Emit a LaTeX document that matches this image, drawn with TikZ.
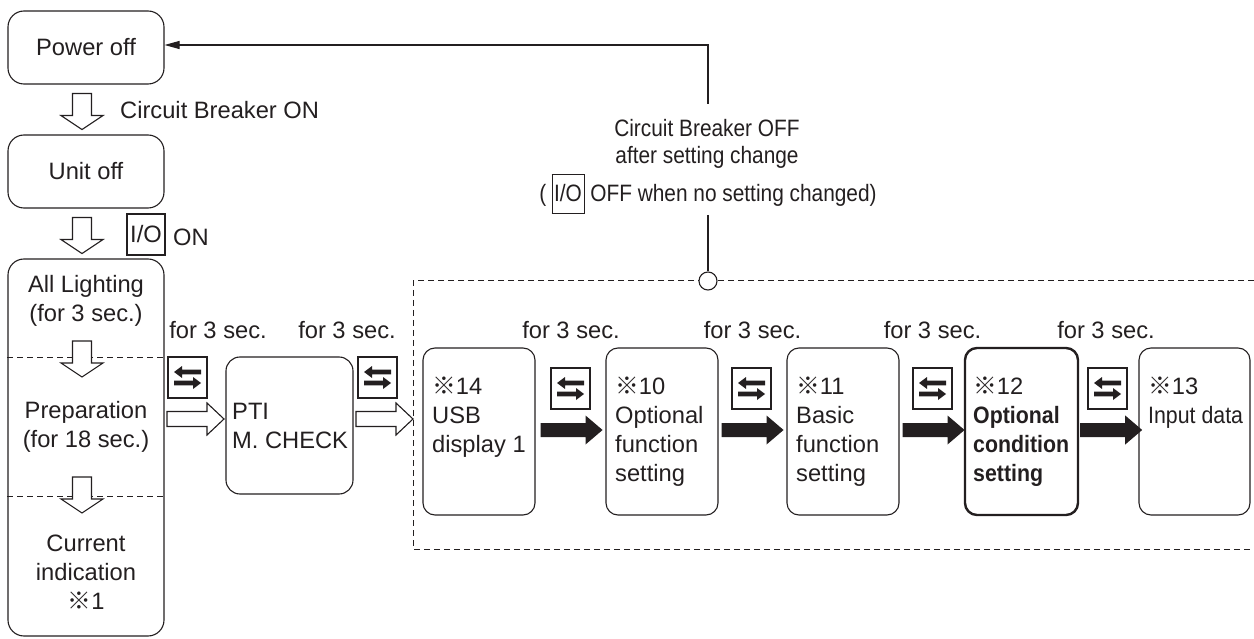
\documentclass[tikz,border=0pt]{standalone}
\usepackage{fontspec}
\usepackage{graphicx}
\setmainfont{Liberation Sans}
\newfontfamily\cjk{Noto Sans CJK JP}
\usetikzlibrary{arrows.meta}
\definecolor{ink}{HTML}{231F20}
\newcommand\kome{{\cjk ※}}
\newcommand\cnd[1]{\scalebox{0.9}[1]{#1}}
\newcommand\cnn[1]{\scalebox{0.88}[1]{#1}}
\newcommand\iobx{{\setlength\fboxsep{2pt}\setlength\fboxrule{0.9pt}\fbox{\rule[-10pt]{0pt}{35pt}I/O}}}
\tikzset{
  ln/.style={draw=ink, line width=1.1pt},
  dsh/.style={draw=ink, line width=1pt, dash pattern=on 6pt off 4pt},
  txt/.style={text=ink, inner sep=0pt, font=\fontsize{23.7}{29}\selectfont},
  top/.style={text=ink, inner sep=0pt, font=\fontsize{23.7}{27}\selectfont},
  box/.style={ln, txt, rounded corners=12pt},
  bigbox/.style={box, rounded corners=16pt},
  hdown/.pic={\draw[ln, fill=white, line join=miter] (-9.5,0) -- (9.5,0) -- (9.5,22) -- (21,22) -- (0,36) -- (-21,22) -- (-9.5,22) -- cycle;},
  hright/.pic={\draw[ln, fill=white, line join=miter] (0,-7.5) -- (40,-7.5) -- (40,-16) -- (57,0) -- (40,16) -- (40,7.5) -- (0,7.5) -- cycle;},
  barrow/.pic={\fill[ink] (0,-7) -- (45,-7) -- (45,-14.5) -- (62,0) -- (45,14.5) -- (45,7) -- (0,7) -- cycle;},
  swap/.pic={\draw[ln] (0,0) rectangle (39,41);
    \fill[ink] (6,15) -- (14,9) -- (14,12.6) -- (33,12.6) -- (33,17.4) -- (14,17.4) -- (14,21) -- cycle;
    \fill[ink] (33,26) -- (25,20) -- (25,23.6) -- (6,23.6) -- (6,28.4) -- (25,28.4) -- (25,32) -- cycle;},
}
\begin{document}
\begin{tikzpicture}[x=1pt,y=-1pt]
\useasboundingbox (0,0) rectangle (1254,639);
% left column
\node[bigbox, minimum width=156pt, minimum height=73pt] (poweroff) at (86,47.5) {Power off};
\node[bigbox, minimum width=156pt, minimum height=73pt] (unitoff) at (86,171.5) {Unit off};
\node[bigbox, minimum width=156pt, minimum height=377pt] (main) at (86,447.5) {};
\node[txt, align=center] (t1) at (86,301) {All Lighting\\(for 3 sec.)};
\node[txt, align=center] (t2) at (86,427) {Preparation\\(for 18 sec.)};
\node[txt, align=center] (t3) at (86,572) {Current\\indication\\\kome1};
\draw[dsh] (main.west |- 0,357) -- (main.east |- 0,357);
\draw[dsh] (main.west |- 0,496) -- (main.east |- 0,496);
\pic at ([xshift=-4pt,yshift=-9pt]poweroff.south) {hdown};
\pic at ([xshift=-4pt,yshift=-9pt]unitoff.south) {hdown};
\pic at (82,341) {hdown};
\pic at (82,477) {hdown};
\node[txt, anchor=west] (cbon) at (120,110) {Circuit Breaker ON};
\node[ln, txt, minimum width=38pt, minimum height=41pt] (io1) at (146,234.5) {I/O};
\node[txt, anchor=west] (on) at (173,237) {ON};
% PTI
\node[box, rounded corners=14pt, minimum width=127pt, minimum height=137pt] (pti) at (289.5,425.5) {};
\node[txt, align=left, anchor=west] (ptitxt) at (232,426) {PTI\\M. CHECK};
\node[txt] (l1) at (218,330) {for 3 sec.};
\node[txt] (l2) at (347,330) {for 3 sec.};
\pic at (168,357) {swap};
\pic at (358,357) {swap};
\pic at (167,419) {hright};
\pic at (356,419) {hright};
% dashed region
\draw[dsh] (1254,281) -- (413,281) -- (413,549) -- (1254,549);
\node[box, minimum width=112pt, minimum height=167pt] (usb) at (479,431.5) {};
\node[box, minimum width=112pt, minimum height=167pt] (opt) at (662,431.5) {};
\node[box, minimum width=112pt, minimum height=167pt] (basic) at (843,431.5) {};
\node[box, line width=2.4pt, minimum width=113pt, minimum height=167pt] (cond) at (1021.5,431.5) {};
\node[box, minimum width=111pt, minimum height=167pt] (input) at (1194.5,431.5) {};
\node[txt, align=left, anchor=west] (usbt) at (432,417) {\kome14\\USB\\display 1};
\node[txt, align=left, anchor=west] (optt) at (615,432) {\kome10\\Optional\\function\\setting};
\node[txt, align=left, anchor=west] (basict) at (796,432) {\kome11\\Basic\\function\\setting};
\node[txt, align=left, anchor=west] (condt) at (973,432) {\kome12\\\cnd{\textbf{Optional}}\\\cnd{\textbf{condition}}\\\cnd{\textbf{setting}}};
\node[txt, align=left, anchor=west] (inputt) at (1148,403) {\kome13\\\cnd{Input data}};
\node[txt] (l3) at (571,330) {for 3 sec.};
\node[txt] (l4) at (752.5,330) {for 3 sec.};
\node[txt] (l5) at (932.5,330) {for 3 sec.};
\node[txt] (l6) at (1106,330) {for 3 sec.};
\pic at (551,368) {swap};
\pic at (732,368) {swap};
\pic at (913,368) {swap};
\pic at (1088,368) {swap};
\pic at ([xshift=5pt,yshift=1.5pt]usb.east) {barrow};
\pic at ([xshift=3pt,yshift=1.5pt]opt.east) {barrow};
\pic at ([xshift=3pt,yshift=1.5pt]basic.east) {barrow};
\pic at ([xshift=1pt,yshift=1.5pt]cond.east) {barrow};
% return connector
\coordinate (c1) at (708,104);
\coordinate (c2) at (708,215);
\node[circle, ln, fill=white, minimum size=18pt, inner sep=0pt] (junc) at (708,281) {};
\draw[ln, -{Triangle[length=15pt,width=8pt]}] (c1) |- ([yshift=2.5pt]poweroff.east);
\draw[ln] (c2) -- (junc.north);
\node[top, align=center] (cboff) at (707,143.8) {\cnn{Circuit Breaker OFF}\\\cnn{after setting change}};
\node[top, anchor=base] (iooff) at (708,201.5) {\cnn{(\hspace{6pt}\iobx{} OFF when no setting changed)}};
\end{tikzpicture}
\end{document}
